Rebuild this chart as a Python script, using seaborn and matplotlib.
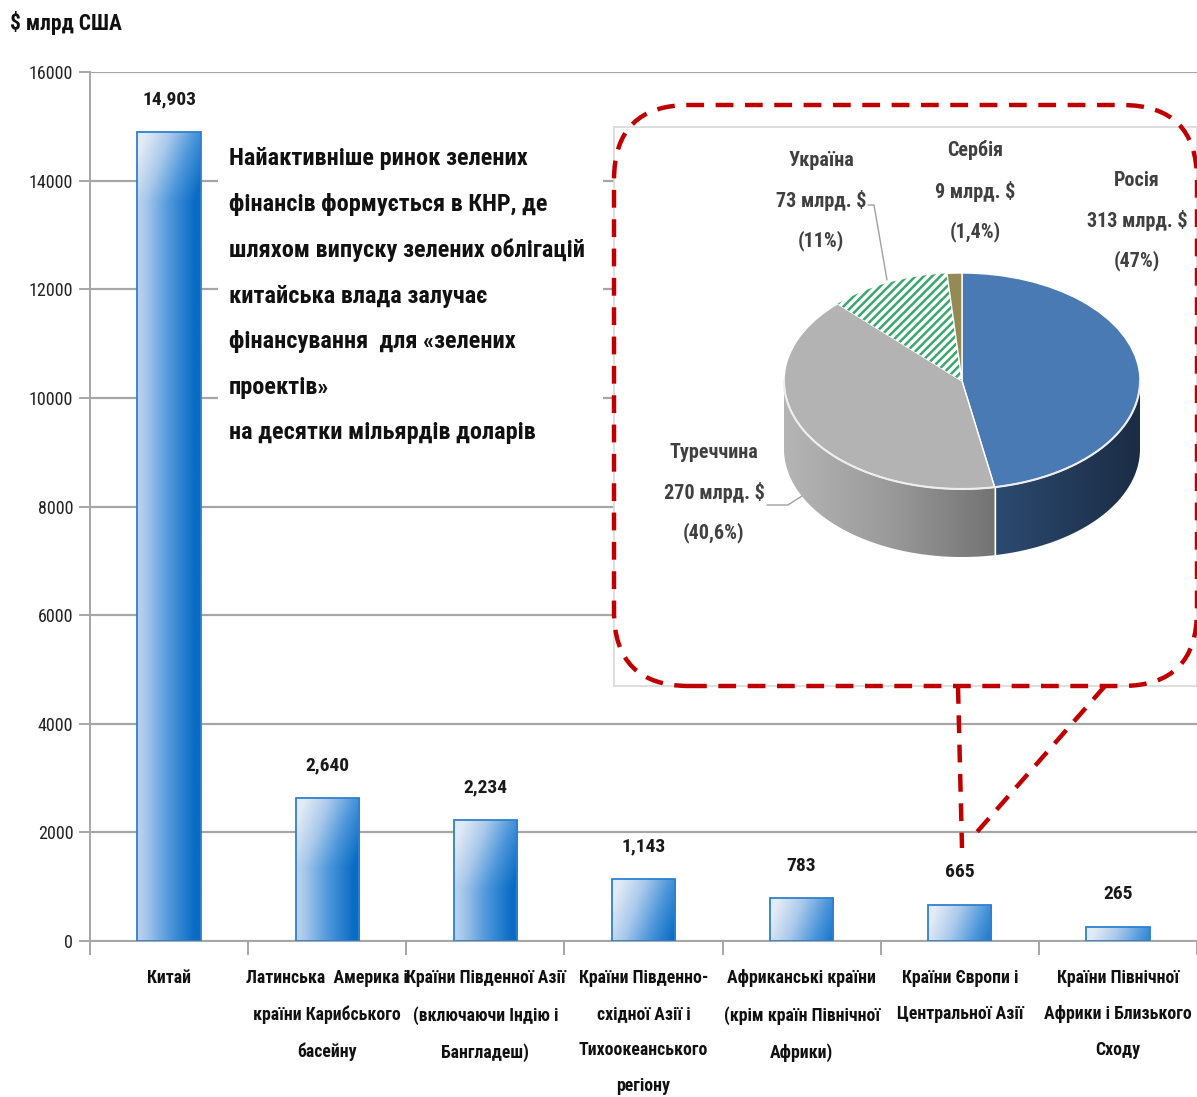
import numpy as np
import pandas as pd
import seaborn as sns
import matplotlib.pyplot as plt
from matplotlib import font_manager
from matplotlib.colors import LinearSegmentedColormap
from matplotlib.patches import FancyBboxPatch, Polygon, Rectangle
from matplotlib.lines import Line2D

# Data
regions = [
    "Китай",
    "Латинська  Америка і\nкраїни Карибського\nбасейну",
    "Країни Південної Азії\n(включаючи Індію і\nБангладеш)",
    "Країни Південно-\nсхідної Азії і\nТихоокеанського\nрегіону",
    "Африканські країни\n(крім країн Північної\nАфрики)",
    "Країни Європи і\nЦентральної Азії",
    "Країни Північної\nАфрики і Близького\nСходу",
]
volumes = [14903, 2640, 2234, 1143, 783, 665, 265]
yticks = [0, 2000, 4000, 6000, 8000, 10000, 12000, 14000, 16000]

countries = ["Росія", "Туреччина", "Україна", "Сербія"]
country_values = [313, 270, 73, 9]
country_shares = ["47%", "40,6%", "11%", "1,4%"]
country_colors = ["#4a7ab4", "#b3b3b3", "#3aa76d", "#948a54"]

note = ("Найактивніше ринок зелених\n"
        "фінансів формується в КНР, де\n"
        "шляхом випуску зелених облігацій\n"
        "китайська влада залучає\n"
        "фінансування  для «зелених\n"
        "проектів»\n"
        "на десятки мільярдів доларів")

sns.set_theme(style="white")

# look for a narrow face; fall back to Liberation Sans
entries = font_manager.fontManager.ttflist
names = {e.name for e in entries}
family, stretch, narrow = "Liberation Sans", "normal", False
for nm in ["Liberation Sans Narrow", "Roboto Condensed", "Open Sans Condensed",
           "Noto Sans Condensed", "DejaVu Sans Condensed", "Arial Narrow"]:
    if nm in names:
        family, narrow = nm, True
        break
if not narrow:
    for nm in ["DejaVu Sans", "Noto Sans", "Open Sans", "Roboto"]:
        if any(e.name == nm and str(e.stretch) in ("condensed", "semi-condensed")
               for e in entries):
            family, stretch, narrow = nm, "condensed", True
            break
plt.rcParams["font.family"] = [family, "DejaVu Sans"]
plt.rcParams["font.stretch"] = stretch
plt.rcParams["hatch.linewidth"] = 1.8

k = 1.0 if narrow else 0.86  # size factor for wide fallback faces

fig = plt.figure(figsize=(11.97, 10.97), dpi=100)


def px(x, y):
    # pixel position (from top-left) -> inches for dpi_scale_trans
    return (x / 100, (1097 - y) / 100)


T = fig.dpi_scale_trans

# Bar chart
ax = fig.add_axes([90 / 1197, 1 - 941 / 1097, 1 - 90 / 1197, (941 - 72) / 1097])
df = pd.DataFrame({"region": regions, "volume": volumes})
sns.barplot(data=df, x="region", y="volume", width=0.4, color="#5b9bd5",
            edgecolor="#2e80d0", linewidth=1.3, ax=ax, zorder=3)

cmap = LinearSegmentedColormap.from_list(
    "bar", ["#e3ebf6", "#a9c9ea", "#4d97da", "#0a6cc4"])
for bar in ax.patches:
    x0, y0 = bar.get_x(), bar.get_y()
    w, h = bar.get_width(), bar.get_height()
    hpx = h / 16000 * 869
    n = max(int(hpx), 2)
    u = np.linspace(0, 1, 80)[None, :]
    d = np.linspace(0, hpx, n)[:, None]
    t = np.clip(0.85 * u + 0.35 * np.minimum(d / 70, 1) - 0.12, 0, 1)
    im = ax.imshow(t, cmap=cmap, vmin=0, vmax=1, origin="upper",
                   extent=(x0, x0 + w, y0, y0 + h), aspect="auto",
                   interpolation="bilinear", zorder=3)
    im.set_clip_path(bar)
    bar.set_facecolor("none")
    bar.set_zorder(4)

ax.bar_label(ax.containers[0], labels=[f"{v:,}" for v in volumes],
             padding=17, fontsize=14 * k, fontweight="bold", color="#1a1a1a")

ax.set_xlim(-0.5, 6.5)
ax.set_ylim(0, 16000)
ax.set_yticks(yticks)
ax.set_yticklabels([str(v) for v in yticks])
ax.set_xlabel("")
ax.set_ylabel("")
ax.yaxis.grid(True, color="#a6a6a6", lw=1.6)
ax.set_axisbelow(True)
for s in ["top", "right"]:
    ax.spines[s].set_visible(False)
for s in ["left", "bottom"]:
    ax.spines[s].set_color("#a6a6a6")
    ax.spines[s].set_linewidth(1.4)
ax.tick_params(axis="y", length=8, color="#a6a6a6", width=1.4,
               labelsize=13 * k, pad=4, left=True, labelcolor="#222222")
ax.set_xticks(np.arange(-0.5, 7, 1), minor=True)
ax.tick_params(axis="x", which="major", length=0, pad=20,
               labelsize=(12.8 if narrow else 10.4))
ax.tick_params(axis="x", which="minor", length=10, color="#a6a6a6",
               width=1.4, bottom=True)
for lbl in ax.get_xticklabels():
    lbl.set_fontweight("bold")
    lbl.set_linespacing(2.3 if narrow else 2.4)
    lbl.set_color("#111111")

# white panel behind the note
ax.add_patch(Rectangle(px(218, 470), 3.85, 3.3, transform=T,
                       facecolor="white", edgecolor="none", zorder=1))
fig.text(*px(229, 147), note, transform=T, ha="left", va="top",
         fontsize=(17.5 if narrow else 15), fontweight="bold",
         linespacing=(2.25 if narrow else 2.4), color="#111111")
fig.text(*px(10, 23), "$ млрд США", transform=T, ha="left", va="center",
         fontsize=15.5 * k, fontweight="bold", color="#111111")

# Inset 3D pie
ax_in = fig.add_axes([614 / 1197, 1 - 686 / 1097, (1197 - 614) / 1197,
                      (686 - 127) / 1097])
rx, ry, cx, cy, depth_px = 178, 108, 962, 381, 68
wedges, _ = ax_in.pie(country_values, startangle=90, counterclock=False,
                      colors=country_colors,
                      wedgeprops=dict(edgecolor="white", linewidth=1))
wedges[2].set_facecolor("white")
wedges[2].set_edgecolor("#3aa76d")
wedges[2].set_hatch("////")
wedges[2].set_linewidth(0)
for wdg in wedges:
    wdg.set_zorder(3)

ax_in.set_aspect("auto")
ax_in.set_frame_on(True)
ax_in.set_facecolor("white")
for s in ax_in.spines.values():
    s.set_color("#d9d9d9")
    s.set_linewidth(1.2)
ax_in.set_xticks([])
ax_in.set_yticks([])

depth = depth_px / ry
side_maps = {
    0: LinearSegmentedColormap.from_list("ru", ["#2c4a70", "#1b2c44"]),
    1: LinearSegmentedColormap.from_list("tr", ["#b5b5b5", "#9a9a9a", "#737373"]),
}
fr = np.array(country_values) / sum(country_values)
start = 90.0
for i, f in enumerate(fr):
    th1, th2 = start - 360 * f, start
    start = th1
    lo, hi = max(th1, -180), min(th2, 0)
    if hi <= lo:
        continue
    tt = np.radians(np.linspace(lo, hi, 200))
    top = np.column_stack([np.cos(tt), np.sin(tt)])
    bot = np.column_stack([np.cos(tt), np.sin(tt) - depth])[::-1]
    poly = Polygon(np.vstack([top, bot]), closed=True, facecolor="none",
                   edgecolor="none", zorder=2)
    ax_in.add_patch(poly)
    xa, xb = np.cos(tt).min(), np.cos(tt).max()
    grad = np.linspace(0, 1, 200)[None, :]
    im = ax_in.imshow(grad, cmap=side_maps.get(i), extent=(xa, xb, -1 - depth, 0.1),
                      aspect="auto", zorder=2, interpolation="bilinear")
    im.set_clip_path(poly)
    # seam between Russia and Turkey sides
    if i == 0:
        ax_in.plot([np.cos(tt[0])] * 2, [np.sin(tt[0]), np.sin(tt[0]) - depth],
                   color="white", lw=1, zorder=4)
tt = np.radians(np.linspace(-180, 0, 200))
ax_in.plot(np.cos(tt), np.sin(tt), color="#eeeeee", lw=1.5, zorder=4)
ax_in.set_xlim((614 - cx) / rx, (1197 - cx) / rx)
ax_in.set_ylim((cy - 686) / ry, (cy - 127) / ry)

label_pos = {"Росія": (1137, 221), "Туреччина": (714, 493),
             "Україна": (821, 201), "Сербія": (975, 191)}
for name, val, share in zip(countries, country_values, country_shares):
    fig.text(*px(*label_pos[name]), f"{name}\n{val} млрд. $\n({share})",
             transform=T, ha="center", va="center", fontsize=14.5 * k,
             fontweight="bold", color="#404040",
             linespacing=(2.2 if narrow else 2.3), zorder=5)

# leader lines
fig.add_artist(Line2D([8.68, 8.74, 8.87], [10.97 - 2.05, 10.97 - 2.05, 10.97 - 2.80],
                      transform=T, color="#a0a0a0", lw=1))
fig.add_artist(Line2D([7.67, 7.88, 8.02], [10.97 - 5.05, 10.97 - 5.05, 10.97 - 4.96],
                      transform=T, color="#a0a0a0", lw=1))

# dashed callout frame
frame = FancyBboxPatch(px(614, 686), 5.83, 5.81,
                       boxstyle="round,pad=0,rounding_size=0.75",
                       transform=T, facecolor="none", edgecolor="#c00000",
                       lw=3.2, linestyle=(0, (4, 2.6)), zorder=6)
fig.add_artist(frame)
fig.add_artist(Line2D([9.58, 9.62], [10.97 - 6.86, 10.97 - 8.48], transform=T,
                      color="#c00000", lw=3.2, linestyle=(0, (4, 2.6)), zorder=6))
fig.add_artist(Line2D([11.05, 9.77], [10.97 - 6.86, 10.97 - 8.32], transform=T,
                      color="#c00000", lw=3.2, linestyle=(0, (4, 2.6)), zorder=6))

fig.savefig("out.png", dpi=100)
